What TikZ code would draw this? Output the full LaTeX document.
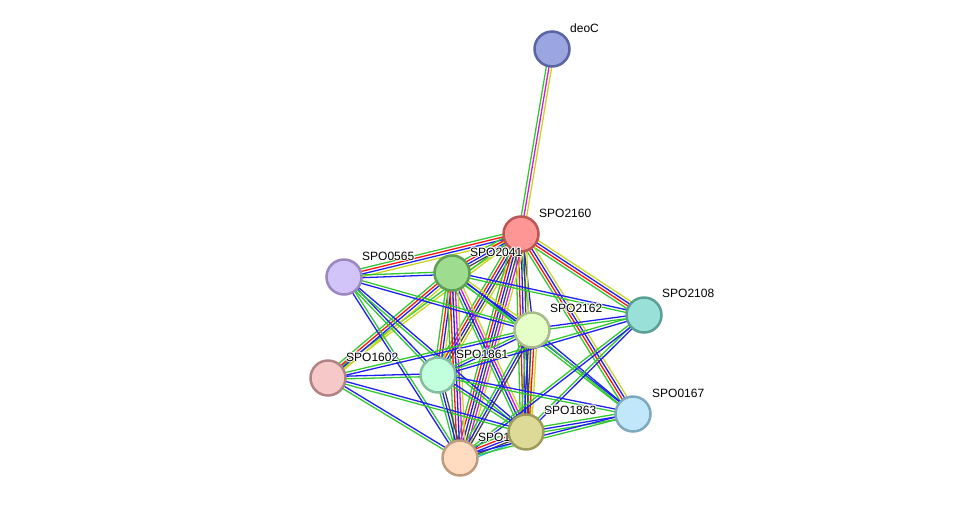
\documentclass[tikz,border=0pt]{standalone}
\usepackage{fontspec}
\setmainfont{Liberation Sans}
\usetikzlibrary{calc,backgrounds}
\definecolor{eg}{RGB}{50,200,50}
\definecolor{er}{RGB}{255,20,20}
\definecolor{eb}{RGB}{30,30,240}
\definecolor{ey}{RGB}{200,215,30}
\definecolor{em}{RGB}{220,20,220}
\definecolor{ek}{RGB}{70,70,70}
\definecolor{ec}{RGB}{40,190,220}
\newcommand\hcopy[3]{\makebox[0pt][l]{\color{white}\hspace*{#1}\raisebox{#2}{#3}}}
\newcommand\halotxt[1]{%
  \hcopy{1.1pt}{0pt}{#1}\hcopy{-1.1pt}{0pt}{#1}%
  \hcopy{0pt}{1.1pt}{#1}\hcopy{0pt}{-1.1pt}{#1}%
  \hcopy{0.8pt}{0.8pt}{#1}\hcopy{-0.8pt}{0.8pt}{#1}%
  \hcopy{0.8pt}{-0.8pt}{#1}\hcopy{-0.8pt}{-0.8pt}{#1}%
  #1}
\tikzset{
  prot/.style={circle,draw,line width=2.5pt,inner sep=0pt,minimum size=35pt},
  lbl/.style={anchor=west,inner sep=0pt,font=\fontsize{12pt}{13pt}\selectfont,text=black},
}
\newcommand\edg[4]{%
  \foreach \c [count=\i] in {#4}{%
    \pgfmathsetmacro\off{(\i-(#3+1)/2)*2.7}%
    \draw[draw=\c,line width=1.3pt] ($(#1.center)!\off pt!90:(#2.center)$) -- ($(#2.center)!\off pt!-90:(#1.center)$);
  }%
}
\begin{document}
\begin{tikzpicture}[x=1pt,y=-1pt]
\useasboundingbox (0,0) rectangle (976,504);
% nodes with labels (draw order matters)
\node[prot,fill={rgb,255:red,155;green,165;blue,224},draw={rgb,255:red,90;green,100;blue,160}] (D) at (552,49) {};
\node[lbl] (Dl) at (570,28) {\halotxt{deoC}};
\node[prot,fill={rgb,255:red,255;green,150;blue,150},draw={rgb,255:red,190;green,85;blue,85}] (A) at (521,234) {};
\node[lbl] (Al) at (539,213) {\halotxt{SPO2160}};
\node[prot,fill={rgb,255:red,158;green,220;blue,144},draw={rgb,255:red,95;green,158;blue,85}] (B) at (452,273) {};
\node[lbl] (Bl) at (470,252) {\halotxt{SPO2041}};
\node[prot,fill={rgb,255:red,210;green,196;blue,248},draw={rgb,255:red,154;green,134;blue,192}] (C) at (344,277) {};
\node[lbl] (Cl) at (362,256) {\halotxt{SPO0565}};
\node[prot,fill={rgb,255:red,230;green,255;blue,200},draw={rgb,255:red,168;green,188;blue,138}] (E) at (532,330) {};
\node[lbl] (El) at (550,308) {\halotxt{SPO2162}};
\node[prot,fill={rgb,255:red,152;green,224;blue,216},draw={rgb,255:red,90;green,158;blue,150}] (F) at (644,315) {};
\node[lbl] (Fl) at (662,293) {\halotxt{SPO2108}};
\node[prot,fill={rgb,255:red,246;green,200;blue,200},draw={rgb,255:red,176;green,132;blue,132}] (G) at (328,378) {};
\node[lbl] (Gl) at (346,357) {\halotxt{SPO1602}};
\node[prot,fill={rgb,255:red,194;green,255;blue,220},draw={rgb,255:red,134;green,188;blue,160}] (H) at (438,375) {};
\node[lbl] (Hl) at (456,354) {\halotxt{SPO1861}};
\node[prot,fill={rgb,255:red,255;green,220;blue,192},draw={rgb,255:red,190;green,154;blue,126}] (K) at (460,458) {};
\node[lbl] (Kl) at (478,437) {\halotxt{SPO1862}};
\node[prot,fill={rgb,255:red,220;green,218;blue,150},draw={rgb,255:red,158;green,156;blue,90}] (I) at (526,432) {};
\node[lbl] (Il) at (544,410) {\halotxt{SPO1863}};
\node[prot,fill={rgb,255:red,192;green,232;blue,250},draw={rgb,255:red,126;green,168;blue,190}] (J) at (633,414) {};
\node[lbl] (Jl) at (652,393) {\halotxt{SPO0167}};
\begin{scope}[on background layer]
\edg{D}{A}{3}{eg,em,ey}
\edg{A}{C}{4}{eg,er,eb,ey}
\edg{A}{B}{5}{eg,er,eb,ek,ey}
\edg{A}{F}{4}{eg,er,eb,ey}
\edg{A}{J}{4}{eg,er,eb,ey}
\edg{A}{E}{2}{eg,eb}
\edg{A}{H}{5}{eg,er,eb,ek,ey}
\edg{A}{I}{5}{eg,er,eb,ek,ey}
\edg{A}{K}{6}{eg,er,eb,ek,em,ey}
\edg{A}{G}{2}{eg,ey}
\edg{B}{G}{4}{eg,er,eb,ey}
\edg{B}{C}{2}{eg,eb}
\edg{B}{E}{3}{eg,eb,ey}
\edg{B}{F}{2}{eg,eb}
\edg{B}{H}{4}{eg,er,eb,ey}
\edg{B}{I}{4}{eg,eb,em,ey}
\edg{B}{K}{5}{eg,er,eb,em,ey}
\edg{B}{J}{2}{eg,eb}
\edg{C}{H}{2}{eg,eb}
\edg{C}{I}{2}{eg,eb}
\edg{C}{K}{2}{eb,eg}
\edg{C}{E}{2}{eb,eg}
\edg{E}{F}{2}{eg,eb}
\edg{E}{H}{2}{eg,eb}
\edg{E}{I}{5}{eg,eb,ek,er,ey}
\edg{E}{K}{3}{eg,eb,ek}
\edg{E}{J}{2}{eg,eb}
\edg{E}{G}{2}{eg,eb}
\edg{F}{H}{2}{eg,eb}
\edg{F}{I}{2}{eg,eb}
\edg{F}{K}{2}{eg,eb}
\edg{G}{H}{2}{eg,eb}
\edg{G}{I}{2}{eg,eb}
\edg{G}{K}{2}{eg,eb}
\edg{H}{I}{2}{eg,eb}
\edg{H}{K}{3}{eg,eb,ek}
\edg{H}{J}{2}{eg,eb}
\edg{I}{K}{5}{eg,er,eb,ek,ec}
\edg{I}{J}{3}{eg,eb,eg}
\edg{K}{J}{2}{eg,eb}
\end{scope}
\end{tikzpicture}
\end{document}
